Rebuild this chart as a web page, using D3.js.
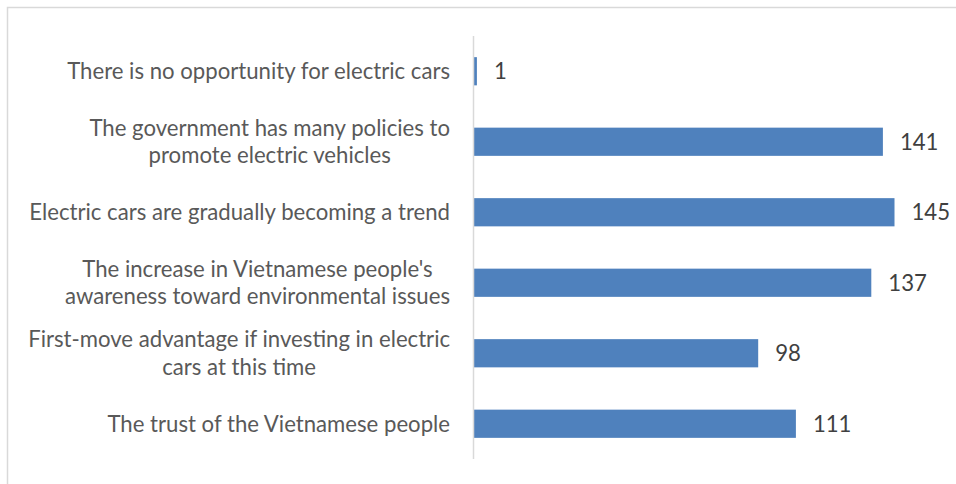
<!DOCTYPE html>
<html><head><meta charset="utf-8">
<script src="https://cdn.jsdelivr.net/npm/d3@7"></script>
<style>body{margin:0;background:#fff}svg{display:block}</style>
</head><body>
<svg id="c" width="956" height="484"></svg>
<script>
const categories = [
  "There is no opportunity for electric cars",
  "The government has many policies to\npromote electric vehicles",
  "Electric cars are gradually becoming a trend",
  "The increase in Vietnamese people's\nawareness toward environmental issues",
  "First-move advantage if investing in electric\ncars at this time",
  "The trust of the Vietnamese people"
];
const values = [1, 141, 145, 137, 98, 111];

const svg = d3.select("#c");
const fontFam = "Lato, 'Open Sans', sans-serif";

// border
svg.append("rect").attr("x", 7.5).attr("y", 7.5).attr("width", 980).attr("height", 500)
  .attr("fill", "none").attr("stroke", "#d9d9d9").attr("stroke-width", 1.5);

// calibrate font size so the reference line width matches
const probe = svg.append("text").attr("font-family", fontFam).attr("font-size", 20).text(categories[0]);
const w = probe.node().getComputedTextLength();
probe.remove();
const fs = 20 * 383 / w;

const x = d3.scaleLinear().domain([0, 145]).range([474, 894.5]);
const y = d3.scaleBand().domain(categories).range([36, 459]).paddingInner(0.6).paddingOuter(0.3);

// bars
svg.append("g").selectAll("rect").data(values).join("rect")
  .attr("x", x(0)).attr("y", (d, i) => y(categories[i]))
  .attr("width", d => x(d) - x(0)).attr("height", y.bandwidth())
  .attr("fill", "#4f81bd");

// axis line
const axis = svg.append("g").attr("transform", `translate(${x(0) - 0.5},0)`)
  .call(d3.axisLeft(y).tickSize(0).tickFormat(""));
axis.select(".domain").attr("stroke", "#d9d9d9").attr("stroke-width", 1.5)
  .attr("d", "M0,36V459");

// category labels (centered multi-line, block right edge at 450)
const lineH = fs * 1.25;
categories.forEach((c, i) => {
  const lines = c.split("\n");
  const cy = y(c) + y.bandwidth() / 2;
  const g = svg.append("text").attr("font-family", fontFam).attr("font-size", fs)
    .attr("fill", "#595959").attr("text-anchor", "middle");
  const ts = lines.map((l, k) => g.append("tspan").text(l));
  const widths = ts.map(t => t.node().getComputedTextLength());
  const maxW = Math.max(...widths);
  const cx = 450 - maxW / 2;
  ts.forEach((t, k) => {
    t.attr("x", cx).attr("y", cy + (k - (lines.length - 1) / 2) * lineH).attr("dy", "0.35em");
  });
});

// value labels
svg.append("g").selectAll("text").data(values).join("text")
  .attr("x", d => x(d) + 17).attr("y", (d, i) => y(categories[i]) + y.bandwidth() / 2)
  .attr("dy", "0.35em").attr("font-family", fontFam).attr("font-size", fs)
  .attr("fill", "#404040").text(d => d);
</script>
</body></html>
